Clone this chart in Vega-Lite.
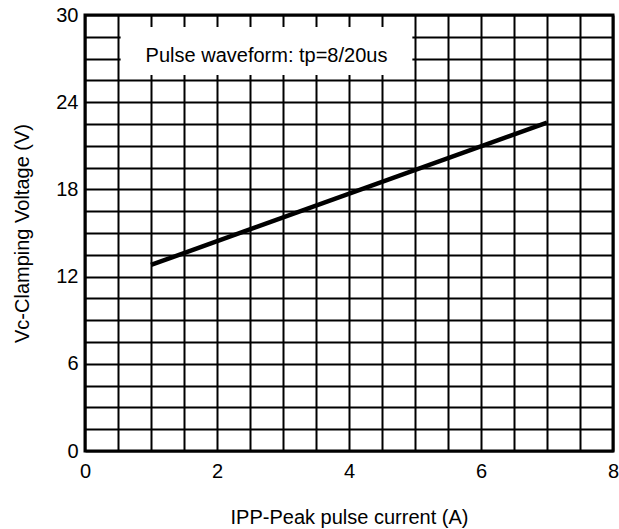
{
  "$schema": "https://vega.github.io/schema/vega-lite/v6.json",
  "width": 528,
  "height": 436,
  "autosize": {"type": "none"},
  "padding": {"left": 85, "top": 15, "right": 6, "bottom": 78},
  "background": "white",
  "config": {
    "view": {"stroke": "black", "strokeWidth": 3},
    "font": "Liberation Sans"
  },
  "layer": [
    {
      "data": {"values": [{"x": 1, "v": 12.8}, {"x": 7, "v": 22.6}]},
      "mark": {"type": "line", "color": "black", "strokeWidth": 4.5, "strokeCap": "butt"},
      "encoding": {
        "x": {
          "field": "x", "type": "quantitative",
          "scale": {"domain": [0, 8], "nice": false, "zero": false},
          "axis": {
            "values": [0, 0.5, 1, 1.5, 2, 2.5, 3, 3.5, 4, 4.5, 5, 5.5, 6, 6.5, 7, 7.5, 8],
            "tickCount": 100,
            "labelExpr": "datum.value % 2 === 0 ? '' + datum.value : ''",
            "labelOverlap": false, "labelFlush": false,
            "grid": true, "gridColor": "black", "gridWidth": 2, "gridOpacity": 1,
            "ticks": false, "domain": false,
            "labelFontSize": 20, "labelColor": "black", "labelPadding": 10,
            "title": "IPP-Peak pulse current (A)",
            "titleFontSize": 20, "titleFontWeight": "normal", "titleColor": "black",
            "titleY": 72, "titleBaseline": "alphabetic"
          }
        },
        "y": {
          "field": "v", "type": "quantitative",
          "scale": {"domain": [0, 30], "nice": false, "zero": false},
          "axis": {
            "values": [0, 1.5, 3, 4.5, 6, 7.5, 9, 10.5, 12, 13.5, 15, 16.5, 18, 19.5, 21, 22.5, 24, 25.5, 27, 28.5, 30],
            "tickCount": 100,
            "labelExpr": "datum.value % 6 === 0 ? '' + datum.value : ''",
            "labelOverlap": false, "labelFlush": false,
            "grid": true, "gridColor": "black", "gridWidth": 2, "gridOpacity": 1,
            "ticks": false, "domain": false,
            "labelFontSize": 20, "labelColor": "black", "labelPadding": 7,
            "title": "Vc-Clamping Voltage (V)",
            "titleFontSize": 20, "titleFontWeight": "normal", "titleColor": "black",
            "titleAngle": 270, "titleBaseline": "alphabetic", "titleAlign": "center",
            "titleX": -57, "titleY": 218
          }
        }
      }
    },
    {
      "data": {"values": [{}]},
      "mark": {"type": "rect", "fill": "white", "stroke": null},
      "encoding": {
        "x": {"datum": 0.54, "type": "quantitative"},
        "x2": {"datum": 4.96},
        "y": {"datum": 25.87, "type": "quantitative"},
        "y2": {"datum": 29.17}
      }
    },
    {
      "data": {"values": [{"label": "Pulse waveform: tp=8/20us"}]},
      "mark": {"type": "text", "fontSize": 20, "color": "black", "align": "center", "baseline": "alphabetic", "font": "Liberation Sans"},
      "encoding": {
        "x": {"datum": 2.75, "type": "quantitative"},
        "y": {"datum": 26.77, "type": "quantitative"},
        "text": {"field": "label"}
      }
    }
  ]
}
